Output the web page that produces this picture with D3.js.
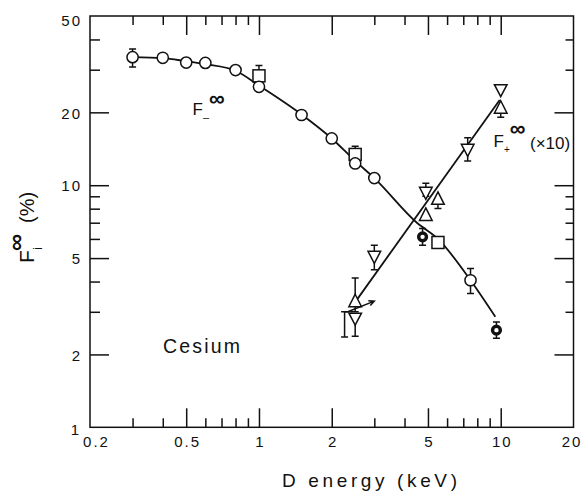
<!DOCTYPE html>
<html>
<head>
<meta charset="utf-8">
<script src="https://cdn.jsdelivr.net/npm/d3@7"></script>
<style>
  body { margin: 0; background: #fff; }
  svg { display: block; }
  text { font-family: "Liberation Sans", Arial, sans-serif; fill: #111; }
</style>
</head>
<body>
<svg id="chart" width="582" height="494"></svg>
<script>
// ---- axis ticks ----
const xMajorTicks = [0.2, 0.5, 1, 2, 5, 10, 20];
const xTickLabels = ["0.2", "0.5", "1", "2", "5", "10", "20"];
const xMinorTicks = [0.3, 0.4, 0.6, 0.7, 0.8, 0.9, 3, 4, 6, 7, 8, 9];
const yMajorTicks = [1, 2, 5, 10, 20, 50];
const yTickLabels = ["1", "2", "5", "10", "20", "50"];
const yMinorTicks = [3, 4, 6, 7, 8, 9, 30, 40];

// ---- F_-^inf : open circles ----
const circleE = [0.3, 0.4, 0.5, 0.6, 0.8, 1.0, 1.5, 2.0, 2.5, 3.0, 7.5];
const circleF = [33.8, 33.6, 32.1, 32.0, 29.9, 25.5, 19.5, 15.6, 12.3, 10.7, 4.05];
// heavy circles
const boldE = [4.75, 9.6];
const boldF = [6.12, 2.52];
// open squares
const squareE = [1.0, 2.5, 5.5];
const squareF = [28.3, 13.4, 5.8];
// smooth curve through F_-
const minusCurveE = [0.3, 0.4, 0.5, 0.6, 0.8, 1.0, 1.5, 2.0, 2.5, 3.0, 4.5, 5.5, 7.5, 9.5];
const minusCurveF = [33.8, 33.5, 32.5, 31.6, 29.7, 25.8, 19.6, 15.6, 12.6, 10.7, 7.0, 6.0, 4.05, 2.86];

// ---- F_+^inf (x10) : triangles ----
const upE = [2.5, 4.9, 5.5, 10];
const upF = [3.3, 7.5, 8.74, 20.8];
const downE = [2.5, 3.0, 4.9, 7.3, 10];
const downF = [2.81, 5.06, 9.3, 14.0, 24.7];
// straight fit line
const plusLineE = [2.56, 9.9];
const plusLineF = [3.4, 22.5];

// ---- error bars ----
const errE  = [0.3,  7.5,  1.0,  2.5,  4.75, 9.6,  2.5,  5.5,  10,   2.5,  3.0,  4.9,  7.3,  2.26];
const errLo = [30.8, 3.57, 25.4, 13.0, 5.65, 2.33, 3.0,  8.02, 19.1, 2.38, 4.48, 9.0,  12.6, 2.36];
const errHi = [36.5, 4.53, 31.2, 14.5, 6.63, 2.72, 4.14, 8.7,  21.0, 2.9,  5.65, 10.2, 15.7, 3.0];

// annotation arrow near 2.5 keV
const arrowE = [2.33, 3.0];
const arrowF = [3.0, 3.32];

// ---- layout ----
const svg = d3.select("#chart");
const x = d3.scaleLog().domain([0.2, 20]).range([90, 573.5]);
const y = d3.scaleLog().domain([1, 50]).range([427.3, 16]);
const [x0, x1] = x.range();
const [y0, y1] = y.range();

const ink = "#111";

// frame
svg.append("rect")
  .attr("x", x0).attr("y", y1)
  .attr("width", x1 - x0).attr("height", y0 - y1)
  .attr("fill", "none").attr("stroke", ink).attr("stroke-width", 1.5);

function styleAxis(g) {
  g.select(".domain").remove();
  g.selectAll(".tick line").attr("stroke", ink).attr("stroke-width", 1.5);
  g.selectAll(".tick text")
    .attr("fill", ink)
    .style("font-size", "15px")
    .style("letter-spacing", "2px");
}

// bottom axis (labels + major ticks)
const innerMajorX = xMajorTicks.filter(v => v > 0.2 && v < 20);
svg.append("g")
  .attr("transform", `translate(0,${y0})`)
  .call(d3.axisBottom(x).tickValues(xMajorTicks)
        .tickFormat((d, i) => xTickLabels[i]).tickSize(0).tickPadding(9))
  .call(styleAxis)
  .call(g => g.selectAll(".tick text")
    .attr("dx", (d, i) => i === 0 ? 6 : (i === xMajorTicks.length - 1 ? -2 : 1)));
svg.append("g")
  .attr("transform", `translate(0,${y0})`)
  .call(d3.axisBottom(x).tickValues(innerMajorX).tickFormat("").tickSize(-19))
  .call(styleAxis);
svg.append("g")
  .attr("transform", `translate(0,${y0})`)
  .call(d3.axisBottom(x).tickValues(xMinorTicks).tickFormat("").tickSize(-9))
  .call(styleAxis);
// top axis
svg.append("g")
  .attr("transform", `translate(0,${y1})`)
  .call(d3.axisTop(x).tickValues(innerMajorX).tickFormat("").tickSize(-19))
  .call(styleAxis);
svg.append("g")
  .attr("transform", `translate(0,${y1})`)
  .call(d3.axisTop(x).tickValues(xMinorTicks).tickFormat("").tickSize(-9))
  .call(styleAxis);

// left axis
const innerMajorY = yMajorTicks.filter(v => v > 1 && v < 50);
svg.append("g")
  .attr("transform", `translate(${x0},0)`)
  .call(d3.axisLeft(y).tickValues(yMajorTicks)
        .tickFormat((d, i) => yTickLabels[i]).tickSize(0).tickPadding(8))
  .call(styleAxis)
  .call(g => g.selectAll(".tick text")
    .attr("dy", (d) => d === 50 ? "0.6em" : (d === 1 ? "0.45em" : "0.38em"))
    .attr("dx", (d) => d === 1 ? -1 : 0));
svg.append("g")
  .attr("transform", `translate(${x0},0)`)
  .call(d3.axisLeft(y).tickValues(innerMajorY).tickFormat("").tickSize(-19))
  .call(styleAxis);
svg.append("g")
  .attr("transform", `translate(${x0},0)`)
  .call(d3.axisLeft(y).tickValues(yMinorTicks).tickFormat("").tickSize(-10))
  .call(styleAxis);
// right axis
svg.append("g")
  .attr("transform", `translate(${x1},0)`)
  .call(d3.axisRight(y).tickValues(innerMajorY).tickFormat("").tickSize(-19))
  .call(styleAxis);
svg.append("g")
  .attr("transform", `translate(${x1},0)`)
  .call(d3.axisRight(y).tickValues(yMinorTicks).tickFormat("").tickSize(-8))
  .call(styleAxis);

// ---- curves ----
svg.append("path")
  .datum(d3.zip(minusCurveE, minusCurveF))
  .attr("d", d3.line().x(d => x(d[0])).y(d => y(d[1])).curve(d3.curveMonotoneX))
  .attr("fill", "none").attr("stroke", ink).attr("stroke-width", 1.8);
svg.append("path")
  .datum(d3.zip(plusLineE, plusLineF))
  .attr("d", d3.line().x(d => x(d[0])).y(d => y(d[1])))
  .attr("fill", "none").attr("stroke", ink).attr("stroke-width", 1.8);

// ---- error bars ----
const cap = 3.5;
const errG = svg.append("g").attr("stroke", ink).attr("stroke-width", 1.5).attr("fill", "none");
d3.range(errE.length).forEach(i => {
  const px = x(errE[i]);
  const ylo = y(errLo[i]), yhi = y(errHi[i]);
  errG.append("path").attr("d",
    `M${px},${ylo}V${yhi}M${px - cap},${yhi}H${px + cap}M${px - cap},${ylo}H${px + cap}`);
});
// short connector from the side bar to the 2.5 keV triangles
errG.append("path").attr("d",
  `M${x(errE[13])},${y(errHi[13])}H${x(2.5) - 3}`);

// ---- arrow ----
const [ax0, ax1] = [x(arrowE[0]), x(arrowE[1])];
const [ay0, ay1] = [y(arrowF[0]), y(arrowF[1])];
const ang = Math.atan2(ay1 - ay0, ax1 - ax0);
const ah = 6;
svg.append("path")
  .attr("d", `M${ax0},${ay0}L${ax1},${ay1}` +
    `M${ax1 - ah * Math.cos(ang - 0.45)},${ay1 - ah * Math.sin(ang - 0.45)}L${ax1},${ay1}` +
    `L${ax1 - ah * Math.cos(ang + 0.45)},${ay1 - ah * Math.sin(ang + 0.45)}`)
  .attr("fill", "none").attr("stroke", ink).attr("stroke-width", 1.5);

// ---- markers ----
const mk = svg.append("g").attr("fill", "#fff").attr("stroke", ink).attr("stroke-width", 1.5);

mk.selectAll(".sq").data(d3.zip(squareE, squareF)).join("rect")
  .attr("x", d => x(d[0]) - 6).attr("y", d => y(d[1]) - 6)
  .attr("width", 12).attr("height", 12);

mk.selectAll(".ci").data(d3.zip(circleE, circleF)).join("circle")
  .attr("cx", d => x(d[0])).attr("cy", d => y(d[1])).attr("r", 5.6);

mk.selectAll(".up").data(d3.zip(upE, upF)).join("path")
  .attr("transform", d => `translate(${x(d[0])},${y(d[1])})`)
  .attr("d", "M0,-7.5L6.3,5L-6.3,5Z");

mk.selectAll(".dn").data(d3.zip(downE, downF)).join("path")
  .attr("transform", d => `translate(${x(d[0])},${y(d[1])})`)
  .attr("d", "M-6.3,-5.5L6.3,-5.5L0,6.5Z");

mk.selectAll(".bold").data(d3.zip(boldE, boldF)).join("circle")
  .attr("cx", d => x(d[0])).attr("cy", d => y(d[1])).attr("r", 3.9)
  .attr("stroke-width", 3.4);

// ---- labels ----
function label(txt, px, py, size, opts = {}) {
  const t = svg.append("text").attr("x", px).attr("y", py)
    .style("font-size", size + "px").text(txt);
  if (opts.anchor) t.attr("text-anchor", opts.anchor);
  if (opts.len) t.attr("textLength", opts.len).attr("lengthAdjust", "spacing");
  return t;
}

// symbol with subscript and superscript infinity, built as one text run
function symbolLabel(px, py, sub, subSize, subDy, supDy) {
  const t = svg.append("text").attr("x", px).attr("y", py).style("font-size", "17px");
  t.append("tspan").text("F");
  t.append("tspan").attr("dy", subDy).style("font-size", subSize + "px").text(sub);
  t.append("tspan").attr("dy", supDy)
    .style("font-size", "22px").style("font-weight", "bold").text("\u221E");
  return t;
}

// F_-^inf
symbolLabel(192.5, 115, "\u2013", 11, 6, -15);
// F_+^inf (x10)
symbolLabel(493.5, 147, "+", 10, 6, -17.5);
label("(\u00D710)", 530, 149, 17);

// element name
label("Cesium", 163, 353, 19.5, { len: 77 });

// x-axis title
label("D energy (keV)", 282, 487, 19, { len: 175 });

// y-axis title, rotated
const yt = svg.append("text").attr("transform", "translate(34,263) rotate(-90)")
  .style("font-size", "21px");
yt.append("tspan").text("F");
yt.append("tspan").attr("dx", 0.5).attr("dy", 8).style("font-size", "12px").text("i");
yt.append("tspan").attr("dx", -4).attr("dy", -18)
  .style("font-size", "24px").style("font-weight", "bold").text("\u221E");
yt.append("tspan").attr("x", 40).attr("dy", 10).style("font-size", "20px").text("(%)");
</script>
</body>
</html>
